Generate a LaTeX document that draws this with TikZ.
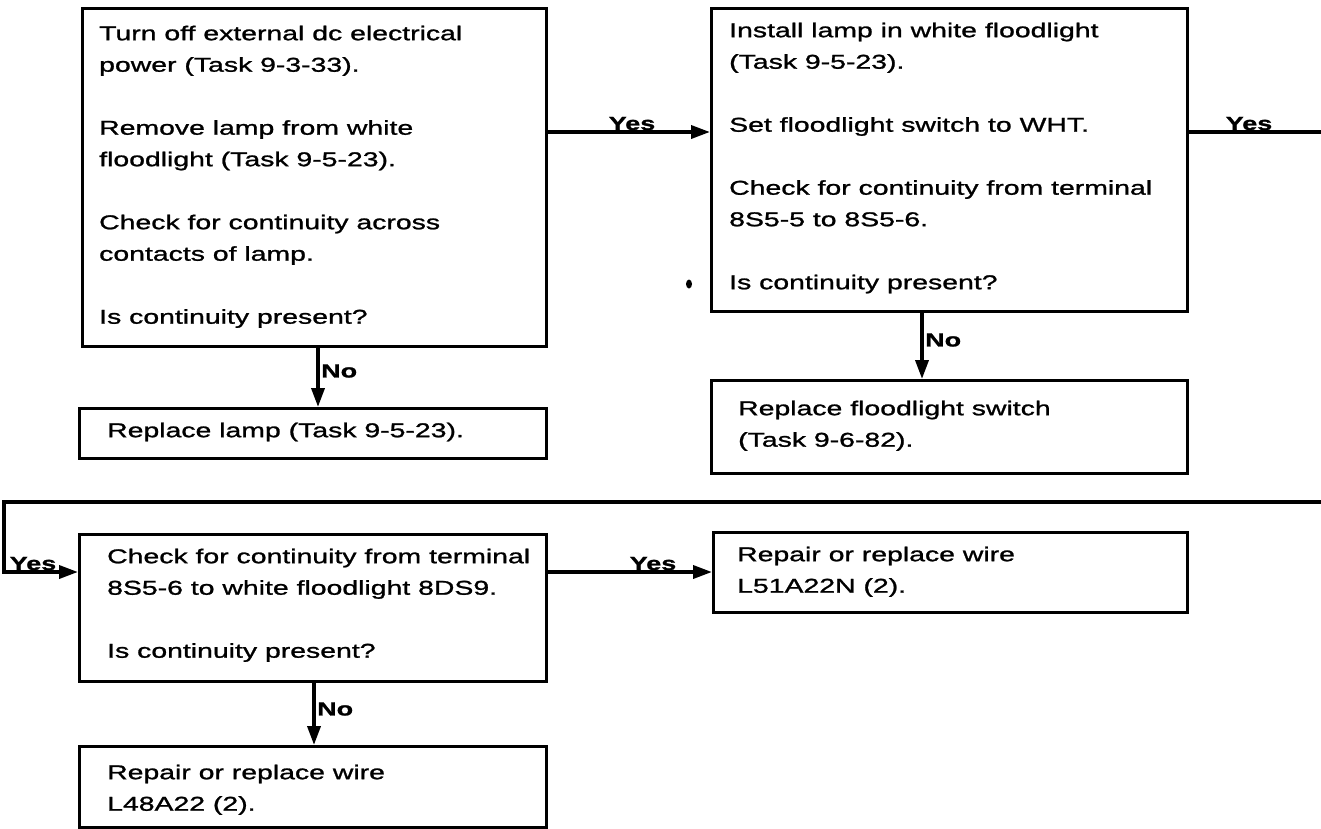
\documentclass[tikz,border=0pt]{standalone}
\usepackage{fontspec}
\setmainfont{Liberation Sans}[FakeStretch=1.42,FakeBold=1.2]
\usetikzlibrary{arrows.meta}
\begin{document}
\begin{tikzpicture}[x=1pt,y=-1pt,
  box/.style={draw,line width=3.2pt,rectangle,inner sep=0pt,anchor=north west},
  txt/.style={anchor=north west,inner sep=0pt,align=left,font=\fontsize{20}{31.5}\selectfont},
  conn/.style={line width=3.6pt,line join=miter,-{Triangle[length=19pt,width=13pt]}},
  lbl/.style={inner sep=0pt,font=\bfseries\fontsize{19}{19}\selectfont}]
\useasboundingbox[fill=white] (0,0) rectangle (1321,828);

% boxes
\node[box,minimum width=464pt,minimum height=338pt] (A) at (81,7) {};
\node[box,minimum width=467pt,minimum height=50pt] (B) at (78,407) {};
\node[box,minimum width=476pt,minimum height=303pt] (C) at (710,7) {};
\node[box,minimum width=476pt,minimum height=93pt] (D) at (710,379) {};
\node[box,minimum width=467pt,minimum height=147pt] (E) at (78,533) {};
\node[box,minimum width=474pt,minimum height=80pt] (F) at (712,531) {};
\node[box,minimum width=467pt,minimum height=81pt] (G) at (78,745) {};

% texts
\node[txt] (At) at ([shift={(18,18.5)}]A.north west) {Turn off external dc electrical\\power (Task 9-3-33).\\[31.5pt]Remove lamp from white\\floodlight (Task 9-5-23).\\[31.5pt]Check for continuity across\\contacts of lamp.\\[31.5pt]Is continuity present?};
\node[txt] (Bt) at ([shift={(29,15.5)}]B.north west) {Replace lamp (Task 9-5-23).};
\node[txt] (Ct) at ([shift={(19,15.5)}]C.north west) {Install lamp in white floodlight\\(Task 9-5-23).\\[31.5pt]Set floodlight switch to WHT.\\[31.5pt]Check for continuity from terminal\\8S5-5 to 8S5-6.\\[31.5pt]Is continuity present?};
\node[txt] (Dt) at ([shift={(28,21.5)}]D.north west) {Replace floodlight switch\\(Task 9-6-82).};
\node[txt] (Et) at ([shift={(29,15.5)}]E.north west) {Check for continuity from terminal\\8S5-6 to white floodlight 8DS9.\\[31.5pt]Is continuity present?};
\node[txt] (Ft) at ([shift={(25,15.5)}]F.north west) {Repair or replace wire\\L51A22N (2).};
\node[txt] (Gt) at ([shift={(29,19.5)}]G.north west) {Repair or replace wire\\L48A22 (2).};

% helper coordinates
\coordinate (r1) at (0,132);
\coordinate (r2) at (0,572);
\coordinate (c1) at (318,0);
\coordinate (c2) at (922,0);
\coordinate (c3) at (314,0);
\coordinate (rt) at (1332,132);
\coordinate (rb) at (1332,502);
\coordinate (lb) at (4,502);

% connectors
\draw[conn] (A.east |- r1) -- (C.west |- r1);
\draw[conn] (C.east |- r1) -- (rt) -- (rb) -- (lb) -- (lb |- r2) -- (E.west |- r2);
\draw[conn] (E.east |- r2) -- (F.west |- r2);
\draw[conn] (A.south -| c1) -- (B.north -| c1);
\draw[conn] (C.south -| c2) -- (D.north -| c2);
\draw[conn] (E.south -| c3) -- (G.north -| c3);

% labels
\node[lbl,anchor=base] (y1) at (632,130) {Yes};
\node[lbl,anchor=base] (y2) at (1249,130) {Yes};
\node[lbl,anchor=base] (y3) at (33,570) {Yes};
\node[lbl,anchor=base] (y4) at (653,570) {Yes};
\node[lbl,anchor=west] (n1) at (321,371) {No};
\node[lbl,anchor=west] (n2) at (925,340) {No};
\node[lbl,anchor=west] (n3) at (317,709) {No};

% stray mark
\fill (689,284) ellipse (3pt and 4.5pt);
\end{tikzpicture}
\end{document}
